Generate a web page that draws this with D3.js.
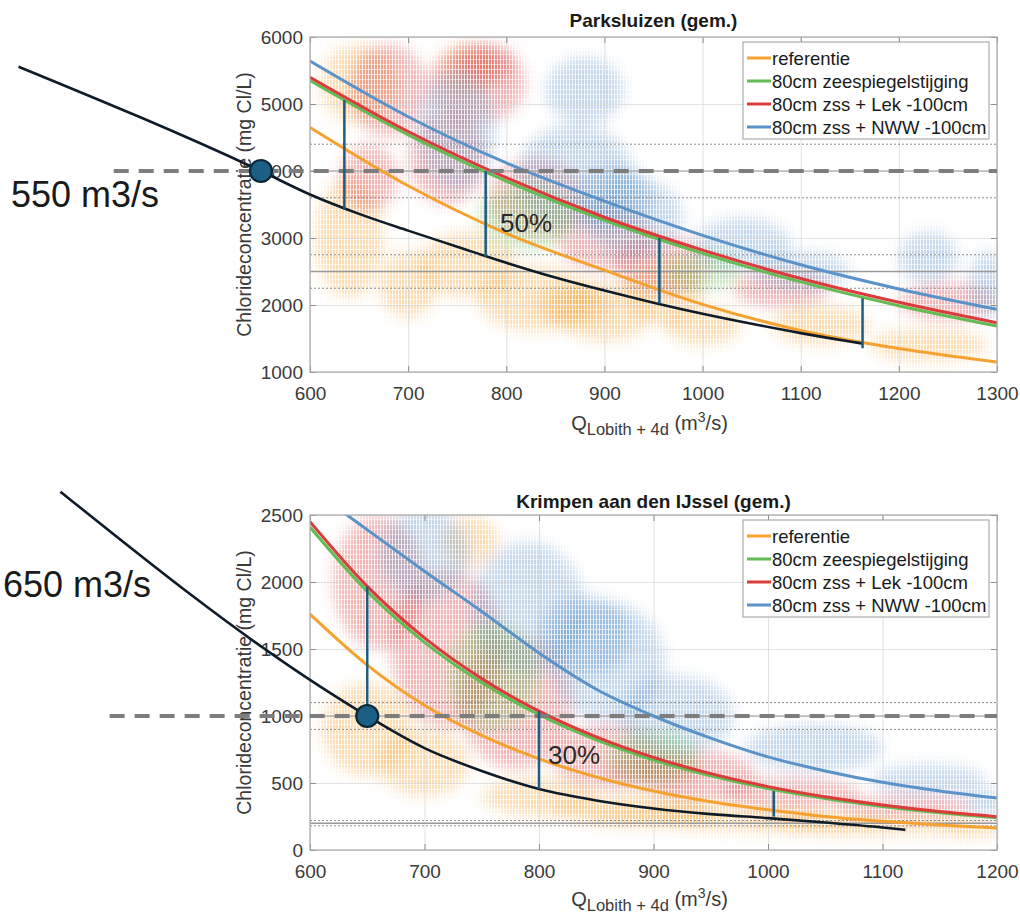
<!DOCTYPE html>
<html>
<head>
<meta charset="utf-8">
<script src="https://cdn.jsdelivr.net/npm/d3@7"></script>
<style>
  body { margin: 0; background: #fff; }
  svg { display: block; font-family: "Liberation Sans", Arial, Helvetica, sans-serif; }
</style>
</head>
<body>
<svg id="fig" width="1020" height="915"></svg>
<script>
// ---------- series ----------
const seriesNames  = ["referentie", "80cm zeespiegelstijging", "80cm zss + Lek -100cm", "80cm zss + NWW -100cm"];
const seriesColors = ["#f5a231", "#63bb53", "#db3b3b", "#5b93c8"];

// ---------- Parksluizen ----------
const parkQ   = [600, 700, 800, 900, 1000, 1100, 1200, 1300];
const parkRef = [4650, 3780, 3070, 2520, 2010, 1620, 1350, 1150];
const parkZss = [5350, 4540, 3850, 3265, 2770, 2345, 1990, 1686];
const parkLek = [5400, 4590, 3900, 3310, 2820, 2395, 2040, 1735];
const parkNww = [5640, 4810, 4120, 3550, 3040, 2600, 2240, 1935];
const parkQTicks = [600, 700, 800, 900, 1000, 1100, 1200, 1300];
const parkCTicks = [1000, 2000, 3000, 4000, 5000, 6000];
// norm line with +/-10% band, lower level with band
const parkNorm = 4000, parkNormBand = [4400, 3600];
const parkLevel = 2500, parkLevelBand = [2750, 2250];
// required-discharge curve
const parkReqQ = [303, 550, 600, 650, 700, 750, 800, 850, 900, 950, 1000, 1050, 1100, 1150, 1163];
const parkReqC = [5557, 4000, 3650, 3360, 3110, 2870, 2630, 2410, 2215, 2035, 1870, 1720, 1580, 1455, 1425];
const parkReqPointQ = 550;
const parkGapQ    = [635, 779, 956, 1163];
const parkGapLow  = [3420, 2720, 2020, 1355];
const parkGapHigh = [5060, 4000, 3000, 2100];
const parkDashFromQ = 400;
// scatter clouds: [Q, C, halfwidth Q, halfheight C, series]
const parkClouds = [
  [650, 5300, 40, 600, 0], [640, 3000, 35, 900, 0], [700, 2300, 30, 500, 0], [760, 2600, 50, 500, 0],
  [830, 2100, 60, 500, 0], [900, 1900, 50, 450, 0], [960, 2200, 40, 500, 0], [1000, 1700, 40, 300, 0],
  [1120, 1700, 50, 300, 0], [1230, 1400, 60, 250, 0], [760, 5500, 30, 400, 0], [870, 2000, 40, 300, 0],
  [680, 5200, 40, 700, 2], [770, 5300, 50, 600, 2], [740, 4200, 40, 700, 2], [830, 3600, 50, 600, 2],
  [900, 3000, 50, 500, 2], [960, 2600, 50, 450, 2], [1080, 2250, 50, 300, 2], [1250, 2050, 50, 300, 2],
  [660, 3900, 30, 500, 2], [780, 5600, 30, 300, 2],
  [750, 4600, 40, 900, 3], [870, 3900, 60, 800, 3], [930, 3300, 50, 600, 3], [880, 5200, 40, 500, 3],
  [1040, 2900, 50, 400, 3], [1100, 2500, 50, 300, 3], [1230, 2700, 30, 400, 3], [1290, 2300, 20, 500, 3],
  [910, 3600, 40, 500, 3],
  [820, 3300, 50, 500, 1], [1000, 2500, 40, 300, 1]
];

// ---------- Krimpen aan den IJssel ----------
const krimpQ   = [600, 650, 700, 750, 800, 850, 900, 950, 1000, 1050, 1100, 1150, 1200];
const krimpRef = [1760, 1380, 1080, 855, 680, 545, 440, 360, 300, 250, 214, 186, 164];
const krimpZss = [2410, 1930, 1550, 1250, 1010, 822, 672, 553, 458, 384, 325, 277, 240];
const krimpLek = [2450, 1967, 1583, 1279, 1036, 844, 691, 570, 473, 397, 336, 287, 249];
const krimpNww = [2700, 2390, 2080, 1780, 1470, 1200, 1000, 835, 695, 590, 505, 440, 388];
const krimpQTicks = [600, 700, 800, 900, 1000, 1100, 1200];
const krimpCTicks = [0, 500, 1000, 1500, 2000, 2500];
const krimpNorm = 1000, krimpNormBand = [1100, 900];
const krimpLevel = 200, krimpLevelBand = [220, 180];
const krimpReqQ = [382, 609, 650, 700, 750, 800, 850, 900, 950, 1000, 1050, 1100, 1120];
const krimpReqC = [2674, 1219, 1000, 760, 590, 455, 370, 310, 268, 238, 205, 168, 150];
const krimpReqPointQ = 650;
const krimpGapQ    = [650, 800, 1005];
const krimpGapLow  = [1000, 455, 249];
const krimpGapHigh = [1967, 1036, 440];
const krimpDashFromQ = 425;
const krimpClouds = [
  [650, 900, 40, 350, 0], [700, 650, 40, 250, 0], [740, 2300, 25, 200, 0], [800, 400, 50, 150, 0],
  [880, 300, 70, 120, 0], [980, 230, 80, 90, 0], [1100, 180, 90, 70, 0], [1180, 160, 30, 60, 0],
  [900, 260, 60, 70, 0], [1040, 200, 60, 60, 0],
  [660, 2000, 40, 500, 2], [720, 1500, 50, 600, 2], [780, 1100, 50, 500, 2], [860, 700, 50, 250, 2],
  [940, 550, 50, 200, 2], [1020, 420, 60, 130, 2], [1120, 320, 60, 100, 2], [900, 600, 40, 150, 2],
  [700, 2200, 40, 350, 3], [790, 1800, 50, 500, 3], [860, 1400, 50, 450, 3], [920, 1000, 50, 300, 3],
  [1040, 760, 60, 180, 3], [1140, 520, 50, 120, 3], [1190, 350, 20, 100, 3], [840, 1600, 40, 300, 3],
  [760, 1300, 40, 400, 1], [900, 700, 40, 200, 1]
];

// ---------- drawing ----------
const svg = d3.select("#fig");
const defs = svg.append("defs");
const fmt = d3.format("d");

// soft edge for the scatter clouds
defs.append("filter").attr("id", "soft").attr("x", "-20%").attr("y", "-20%").attr("width", "140%").attr("height", "140%")
  .append("feGaussianBlur").attr("stdDeviation", 7);
// streaky marker texture laid over the clouds
const pat = defs.append("pattern").attr("id", "streaks").attr("patternUnits", "userSpaceOnUse")
  .attr("width", 3).attr("height", 5);
pat.append("rect").attr("x", 2).attr("y", 0).attr("width", 1).attr("height", 5).attr("fill", "#fff").attr("opacity", 0.8);
pat.append("rect").attr("x", 0).attr("y", 4).attr("width", 3).attr("height", 1).attr("fill", "#fff").attr("opacity", 0.55);

function panel(P) {
  const x = d3.scaleLinear().domain(P.qDomain).range([P.left, P.right]);
  const y = d3.scaleLinear().domain(P.cDomain).range([P.bottom, P.top]);
  const w = P.right - P.left, h = P.bottom - P.top;
  const clipId = "clip-" + P.id;
  defs.append("clipPath").attr("id", clipId).append("rect")
    .attr("x", P.left).attr("y", P.top).attr("width", w).attr("height", h);

  const g = svg.append("g");
  g.append("rect").attr("x", P.left).attr("y", P.top).attr("width", w).attr("height", h).attr("fill", "#fff");

  // scatter clouds
  const cl = g.append("g").attr("clip-path", `url(#${clipId})`);
  cl.append("g").attr("filter", "url(#soft)")
    .selectAll("ellipse").data(P.clouds).join("ellipse")
    .attr("cx", d => x(d[0])).attr("cy", d => y(d[1]))
    .attr("rx", d => Math.abs(x(d[0] + d[2]) - x(d[0])))
    .attr("ry", d => Math.abs(y(d[1] + d[3]) - y(d[1])))
    .attr("fill", d => seriesColors[d[4]]).attr("fill-opacity", 0.37);
  cl.append("rect").attr("x", P.left).attr("y", P.top).attr("width", w).attr("height", h).attr("fill", "url(#streaks)");

  // grid
  const grid = g.append("g");
  grid.append("g").attr("transform", `translate(0,${P.bottom})`)
    .call(d3.axisBottom(x).tickValues(P.qTicks).tickSize(-h).tickFormat(""));
  grid.append("g").attr("transform", `translate(${P.left},0)`)
    .call(d3.axisLeft(y).tickValues(P.cTicks).tickSize(-w).tickFormat(""));
  grid.selectAll(".domain").remove();
  grid.selectAll("line").attr("stroke", "#d6d6d6").attr("stroke-opacity", 0.7);

  // reference levels
  const ref = g.append("g").attr("clip-path", `url(#${clipId})`);
  const hline = (v, dash, width, col) => ref.append("line")
    .attr("x1", P.left).attr("x2", P.right).attr("y1", y(v)).attr("y2", y(v))
    .attr("stroke", col).attr("stroke-width", width).attr("stroke-dasharray", dash);
  P.normBand.concat(P.levelBand).forEach(v => hline(v, "2,2", 1, "#8f8f8f"));
  hline(P.level, null, 1.4, "#9a9a9a");
  hline(P.norm, null, 1.2, "#9a9a9a");

  // scenario curves
  const line = d3.line().x(d => x(d[0])).y(d => y(d[1])).curve(d3.curveMonotoneX);
  const curves = g.append("g").attr("clip-path", `url(#${clipId})`);
  P.series.forEach((vals, i) => {
    curves.append("path").attr("d", line(P.q.map((q, k) => [q, vals[k]])))
      .attr("fill", "none").attr("stroke", seriesColors[i]).attr("stroke-width", 3);
  });

  // axes box with inward ticks
  const ax = g.append("g");
  const xb = ax.append("g").attr("transform", `translate(0,${P.bottom})`)
    .call(d3.axisBottom(x).tickValues(P.qTicks).tickFormat(fmt).tickSizeInner(-6).tickSizeOuter(0).tickPadding(15));
  const xt = ax.append("g").attr("transform", `translate(0,${P.top})`)
    .call(d3.axisTop(x).tickValues(P.qTicks).tickSizeInner(-6).tickSizeOuter(0).tickFormat(""));
  const yl = ax.append("g").attr("transform", `translate(${P.left},0)`)
    .call(d3.axisLeft(y).tickValues(P.cTicks).tickFormat(fmt).tickSizeInner(-6).tickSizeOuter(0).tickPadding(7));
  const yr = ax.append("g").attr("transform", `translate(${P.right},0)`)
    .call(d3.axisRight(y).tickValues(P.cTicks).tickSizeInner(-6).tickSizeOuter(0).tickFormat(""));
  [xb, xt, yl, yr].forEach(a => {
    a.select(".domain").remove();
    a.selectAll("line").attr("stroke", "#8c8c8c");
    a.selectAll("text").attr("font-size", 19).attr("fill", "#3a3a3a")
      .attr("font-family", "Liberation Sans, Arial, sans-serif");
  });
  g.append("rect").attr("x", P.left).attr("y", P.top).attr("width", w).attr("height", h)
    .attr("fill", "none").attr("stroke", "#a8a8a8").attr("stroke-width", 1.2);

  // title and axis labels
  g.append("text").attr("x", (P.left + P.right) / 2).attr("y", P.titleY)
    .attr("text-anchor", "middle").attr("font-size", 19).attr("font-weight", "bold").attr("fill", "#1a1a1a")
    .text(P.title);
  g.append("text").attr("transform", `translate(${P.left - 59},${(P.top + P.bottom) / 2}) rotate(-90)`)
    .attr("text-anchor", "middle").attr("font-size", 19.5).attr("fill", "#3a3a3a")
    .text("Chlorideconcentratie (mg Cl/L)");
  const xl = g.append("text").attr("x", (P.left + P.right) / 2 - 4).attr("y", P.xlabelY)
    .attr("text-anchor", "middle").attr("fill", "#3a3a3a").attr("font-size", 20);
  xl.append("tspan").text("Q");
  xl.append("tspan").attr("font-size", 16.5).attr("dy", 5).text("Lobith + 4d");
  xl.append("tspan").attr("dy", -5).text(" (m");
  xl.append("tspan").attr("font-size", 14).attr("dy", -8).text("3");
  xl.append("tspan").attr("dy", 8).text("/s)");

  // legend
  const lg = g.append("g");
  const lgX = P.right - 254, lgW = 246, lgH = 97;
  lg.append("rect").attr("x", lgX).attr("y", P.legendTop).attr("width", lgW).attr("height", lgH)
    .attr("fill", "#fff").attr("stroke", "#9c9c9c").attr("stroke-width", 1);
  seriesNames.forEach((n, i) => {
    const cy = P.legendTop + 16 + i * 23;
    lg.append("line").attr("x1", lgX + 4).attr("x2", lgX + 28).attr("y1", cy).attr("y2", cy)
      .attr("stroke", seriesColors[i]).attr("stroke-width", 3);
    lg.append("text").attr("x", lgX + 29).attr("y", cy + 6.5).attr("font-size", 18.5).attr("fill", "#1a1a1a").text(n);
  });

  // annotation: required discharge for the norm
  const an = svg.append("g");
  an.append("line").attr("x1", x(P.dashFromQ)).attr("x2", P.right).attr("y1", y(P.norm)).attr("y2", y(P.norm))
    .attr("stroke", "#7d7d7d").attr("stroke-width", 4).attr("stroke-dasharray", "15,10");
  an.append("path").attr("d", line(P.reqQ.map((q, k) => [q, P.reqC[k]])))
    .attr("fill", "none").attr("stroke", "#0f1c28").attr("stroke-width", 2.6);
  P.gapQ.forEach((q, k) => {
    an.append("line").attr("x1", x(q)).attr("x2", x(q)).attr("y1", y(P.gapLow[k])).attr("y2", y(P.gapHigh[k]))
      .attr("stroke", "#1f5d7e").attr("stroke-width", 2.5);
  });
  an.append("circle").attr("cx", x(P.reqPointQ)).attr("cy", y(P.norm)).attr("r", 11)
    .attr("fill", "#1c5f84").attr("stroke", "#0c2633").attr("stroke-width", 2.2);
  an.append("text").attr("x", P.qLabel[0]).attr("y", P.qLabel[1]).attr("font-size", 36).attr("fill", "#1a1a1a")
    .text(P.reqPointQ + " m3/s");
  an.append("text").attr("x", P.pctLabel[0]).attr("y", P.pctLabel[1]).attr("font-size", 26).attr("fill", "#2a2a2a")
    .text(P.pctText);
}

panel({
  id: "park", left: 310, right: 997, top: 37, bottom: 372,
  qDomain: [600, 1300], cDomain: [1000, 6000], qTicks: parkQTicks, cTicks: parkCTicks,
  q: parkQ, series: [parkRef, parkZss, parkLek, parkNww], clouds: parkClouds,
  norm: parkNorm, normBand: parkNormBand, level: parkLevel, levelBand: parkLevelBand,
  reqQ: parkReqQ, reqC: parkReqC, reqPointQ: parkReqPointQ,
  gapQ: parkGapQ, gapLow: parkGapLow, gapHigh: parkGapHigh, dashFromQ: parkDashFromQ,
  title: "Parksluizen (gem.)", titleY: 27, xlabelY: 430, legendTop: 42,
  qLabel: [11, 207], pctLabel: [500, 232], pctText: "50%"
});

panel({
  id: "krimp", left: 310, right: 997, top: 515, bottom: 850,
  qDomain: [600, 1200], cDomain: [0, 2500], qTicks: krimpQTicks, cTicks: krimpCTicks,
  q: krimpQ, series: [krimpRef, krimpZss, krimpLek, krimpNww], clouds: krimpClouds,
  norm: krimpNorm, normBand: krimpNormBand, level: krimpLevel, levelBand: krimpLevelBand,
  reqQ: krimpReqQ, reqC: krimpReqC, reqPointQ: krimpReqPointQ,
  gapQ: krimpGapQ, gapLow: krimpGapLow, gapHigh: krimpGapHigh, dashFromQ: krimpDashFromQ,
  title: "Krimpen aan den IJssel (gem.)", titleY: 508, xlabelY: 906, legendTop: 520,
  qLabel: [3, 597], pctLabel: [548, 764], pctText: "30%"
});
</script>
</body>
</html>
